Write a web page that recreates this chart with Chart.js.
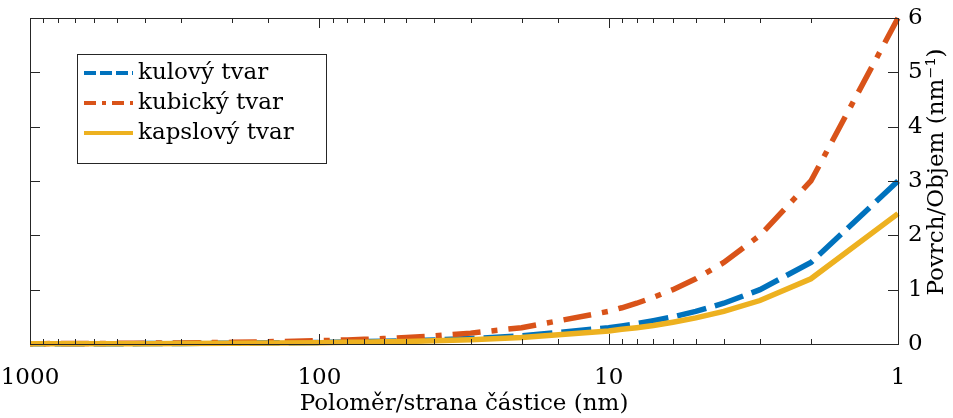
<!DOCTYPE html>
<html>
<head>
<meta charset="utf-8">
<script src="https://cdn.jsdelivr.net/npm/chart.js@4/dist/chart.umd.min.js"></script>
<style>
  html, body { margin: 0; padding: 0; background: #fff; }
  #wrap { width: 953px; height: 418px; position: relative; }
</style>
</head>
<body>
<div id="wrap"><canvas id="chart"></canvas></div>
<script>
  // particle radius / edge length (nm)
  var sizes = [1, 2, 3, 4, 5, 6, 7, 8, 9, 10, 20, 30, 40, 50, 60, 70, 80, 90,
               100, 200, 300, 400, 500, 600, 700, 800, 900, 1000];

  // surface-to-volume ratio (nm^-1)
  var sphere = [3, 1.5, 1, 0.75, 0.6, 0.5, 0.43, 0.375, 0.333, 0.3,
                0.15, 0.1, 0.075, 0.06, 0.05, 0.043, 0.0375, 0.033,
                0.03, 0.015, 0.01, 0.0075, 0.006, 0.005, 0.0043, 0.0038, 0.0033, 0.003];
  var cube = [6, 3, 2, 1.5, 1.2, 1, 0.86, 0.75, 0.667, 0.6,
              0.3, 0.2, 0.15, 0.12, 0.1, 0.086, 0.075, 0.067,
              0.06, 0.03, 0.02, 0.015, 0.012, 0.01, 0.0086, 0.0075, 0.0067, 0.006];
  var capsule = [2.4, 1.2, 0.8, 0.6, 0.48, 0.4, 0.34, 0.3, 0.27, 0.24,
                 0.12, 0.08, 0.06, 0.048, 0.04, 0.034, 0.03, 0.027,
                 0.024, 0.012, 0.008, 0.006, 0.0048, 0.004, 0.0034, 0.003, 0.0027, 0.0024];

  var seriesLabels = ['kulový tvar', 'kubický tvar', 'kapslový tvar'];
  var yTicks = [0, 1, 2, 3, 4, 5, 6];
  var xLabelTicks = [1, 10, 100, 1000];

  var FONT = '"DejaVu Serif", "Liberation Serif", serif';
  var FSIZE = 23;
  var AXIS = '#262626';

  function pts(ys) {
    return sizes.map(function (x, i) { return { x: x, y: ys[i] }; });
  }

  // box, inward ticks, legend and right-hand axis title
  var framePlugin = {
    id: 'frame',
    afterDraw: function (chart) {
      var ctx = chart.ctx;
      var a = chart.chartArea;
      var xs = chart.scales.x;
      var ys = chart.scales.y;
      ctx.save();
      ctx.strokeStyle = AXIS;
      ctx.lineWidth = 1;
      ctx.strokeRect(a.left + 0.5, a.top + 0.5, a.right - a.left, a.bottom - a.top);

      ctx.beginPath();
      xs.ticks.forEach(function (t) {
        var px = Math.round(xs.getPixelForValue(t.value)) + 0.5;
        var major = xLabelTicks.indexOf(t.value) >= 0;
        var len = major ? 10 : 5;
        ctx.moveTo(px, a.bottom); ctx.lineTo(px, a.bottom - len);
        ctx.moveTo(px, a.top); ctx.lineTo(px, a.top + len);
      });
      yTicks.forEach(function (v) {
        var py = Math.round(ys.getPixelForValue(v)) + 0.5;
        ctx.moveTo(a.left, py); ctx.lineTo(a.left + 10, py);
        ctx.moveTo(a.right, py); ctx.lineTo(a.right - 10, py);
      });
      ctx.stroke();

      // y title, reads bottom to top
      ctx.save();
      ctx.translate(937, 172);
      ctx.rotate(-Math.PI / 2);
      ctx.fillStyle = '#000';
      ctx.font = FSIZE + 'px ' + FONT;
      ctx.textAlign = 'center';
      ctx.textBaseline = 'middle';
      ctx.fillText('Povrch/Objem (nm⁻¹)', 0, 0);
      ctx.restore();

      // legend
      var lx = 77, ly = 54, lw = 249, lh = 109;
      ctx.fillStyle = '#fff';
      ctx.fillRect(lx, ly, lw, lh);
      ctx.strokeStyle = AXIS;
      ctx.strokeRect(lx + 0.5, ly + 0.5, lw, lh);
      ctx.font = FSIZE + 'px ' + FONT;
      ctx.textBaseline = 'middle';
      ctx.textAlign = 'left';
      chart.data.datasets.forEach(function (ds, i) {
        var yy = ly + 19 + i * 30;
        ctx.beginPath();
        ctx.strokeStyle = ds.borderColor;
        ctx.lineWidth = 4;
        ctx.setLineDash(ds.legendDash || []);
        ctx.moveTo(84, yy);
        ctx.lineTo(133, yy);
        ctx.stroke();
        ctx.setLineDash([]);
        ctx.fillStyle = '#000';
        ctx.fillText(ds.label, 138, yy);
      });
      ctx.restore();
    }
  };

  new Chart(document.getElementById('chart'), {
    type: 'line',
    data: {
      datasets: [
        {
          label: seriesLabels[0],
          data: pts(sphere),
          borderColor: '#0072BD',
          borderWidth: 5.5,
          borderDash: [30, 9],
          legendDash: [12, 4],
          order: 2
        },
        {
          label: seriesLabels[1],
          data: pts(cube),
          borderColor: '#D95319',
          borderWidth: 5.5,
          borderDash: [28, 11, 6, 11],
          legendDash: [12, 6, 4, 6],
          order: 1
        },
        {
          label: seriesLabels[2],
          data: pts(capsule),
          borderColor: '#EDB120',
          borderWidth: 5.5,
          order: 0
        }
      ]
    },
    options: {
      responsive: true,
      maintainAspectRatio: false,
      animation: false,
      layout: { padding: { left: 30, top: 18, right: 0, bottom: 0 } },
      elements: { point: { radius: 0 }, line: { tension: 0 } },
      datasets: { line: { clip: 6 } },
      plugins: { legend: { display: false }, tooltip: { enabled: false } },
      scales: {
        x: {
          type: 'logarithmic',
          reverse: true,
          min: 1,
          max: 1000,
          afterFit: function (s) {
            s.height = 74;
            s.paddingLeft = 0;
            s.paddingRight = 0;
          },
          grid: { display: false },
          border: { display: false },
          ticks: {
            autoSkip: false,
            maxRotation: 0,
            padding: 12,
            color: '#000',
            font: { family: FONT, size: FSIZE },
            callback: function (v) {
              return xLabelTicks.indexOf(v) >= 0 ? String(v) : '';
            }
          },
          title: {
            display: true,
            text: 'Poloměr/strana částice (nm)',
            color: '#000',
            font: { family: FONT, size: FSIZE },
            padding: { top: 0, bottom: 0 }
          }
        },
        y: {
          position: 'right',
          min: 0,
          max: 6,
          afterFit: function (s) { s.width = 55; },
          grid: { display: false },
          border: { display: false },
          ticks: {
            stepSize: 1,
            padding: 2,
            color: '#000',
            font: { family: FONT, size: FSIZE }
          }
        }
      }
    },
    plugins: [framePlugin]
  });
</script>
</body>
</html>
